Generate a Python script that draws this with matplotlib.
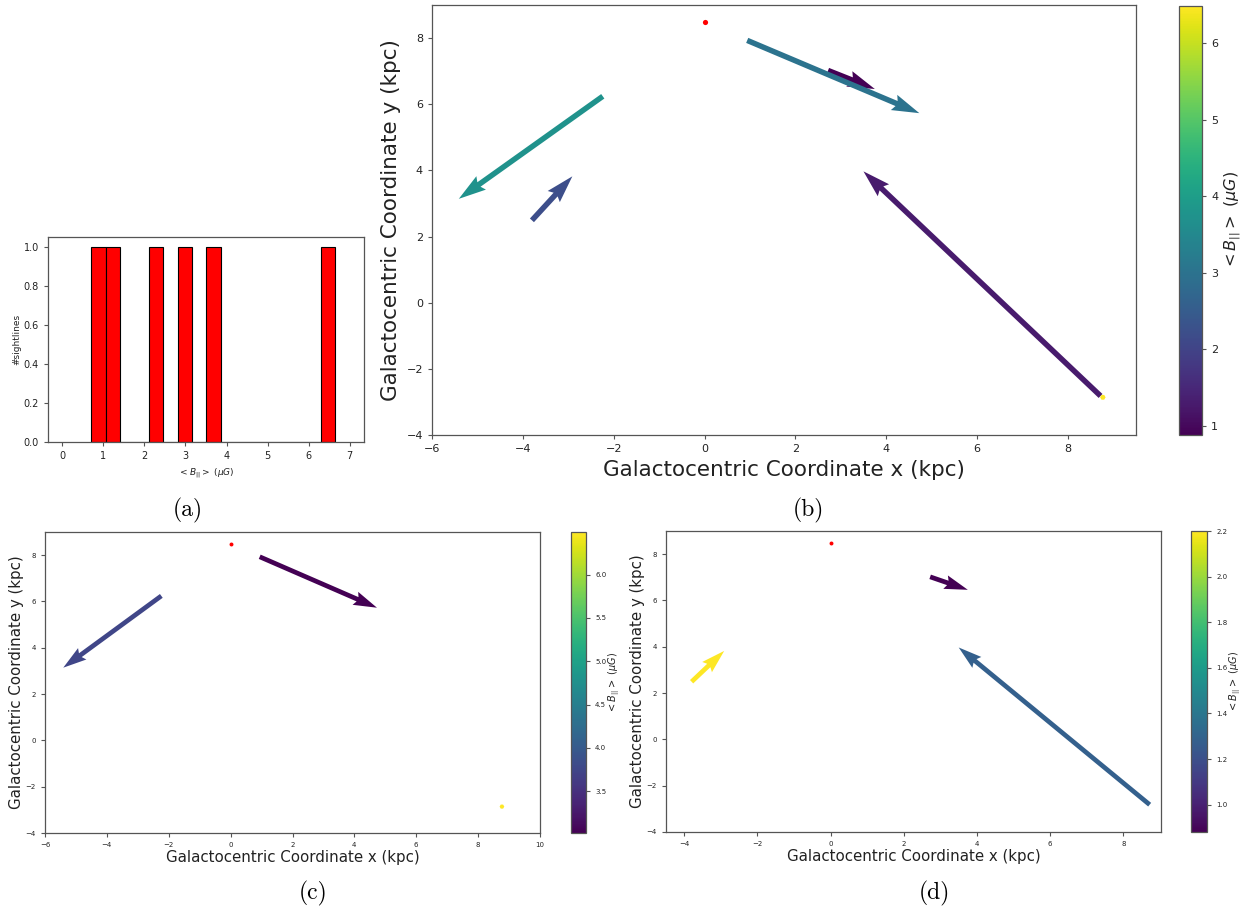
import numpy as np
import matplotlib
matplotlib.use("Agg")
import matplotlib.pyplot as plt

# Sightline tails / heads in Galactocentric coordinates (kpc) and mean B_parallel (muG)
x_start = np.array([2.72, 8.72, -3.80, 0.94, -2.24, 8.77])
y_start = np.array([7.02, -2.82, 2.49, 7.93, 6.24, -2.86])
x_end = np.array([3.75, 3.50, -2.91, 4.73, -5.41, 8.77])
y_end = np.array([6.46, 3.97, 3.82, 5.73, 3.14, -2.86])
b_par = np.array([0.88, 1.28, 2.20, 3.02, 3.75, 6.49])

# Sun position
sun_x, sun_y = 0.0, 8.5

# Histogram bin edges
hist_edges = np.linspace(0.708, 6.655, 18)

# Field-strength split between the low / high subsets
b_split = 2.5

W, H = 1250, 914
fig = plt.figure(figsize=(W / 100, H / 100), dpi=100)

SPINE = "#555555"
TXT = "#222222"
B_LABEL = r"$< B_{||} >\ (\mu G)$"


def px_axes(l, t, r, b):
    return fig.add_axes([l / W, 1 - b / H, (r - l) / W, (b - t) / H])


def style(ax, tick_fs):
    for s in ax.spines.values():
        s.set_color(SPINE)
        s.set_linewidth(0.9)
    ax.tick_params(labelsize=tick_fs, colors=SPINE, labelcolor=TXT,
                   width=0.8, length=3)


def map_panel(ax, cax, mask, width, sun_s, label_fs, tick_fs, cb_fs, cb_tick_fs,
              xlim, cticks=None, labelpad_cb=2, labelpad_ax=4):
    u = x_end[mask] - x_start[mask]
    v = y_end[mask] - y_start[mask]
    c = b_par[mask]
    q = ax.quiver(x_start[mask], y_start[mask], u, v, c, cmap="viridis",
                  angles="xy", scale_units="xy", scale=1, width=width)
    q.set_clim(c.min(), c.max())
    ax.scatter([sun_x], [sun_y], s=sun_s, color="red", zorder=3, linewidths=0)
    ax.set_xlim(*xlim)
    ax.set_ylim(-4, 9)
    ax.set_xlabel("Galactocentric Coordinate x (kpc)", fontsize=label_fs,
                  color=TXT, labelpad=labelpad_ax)
    ax.set_ylabel("Galactocentric Coordinate y (kpc)", fontsize=label_fs,
                  color=TXT, labelpad=labelpad_ax)
    style(ax, tick_fs)
    cb = fig.colorbar(q, cax=cax)
    if cticks is not None:
        cb.set_ticks(cticks)
    cb.outline.set_edgecolor(SPINE)
    cb.outline.set_linewidth(0.9)
    cax.tick_params(labelsize=cb_tick_fs, colors=SPINE, labelcolor=TXT,
                    width=0.8, length=3)
    cb.set_label(B_LABEL, fontsize=cb_fs, color=TXT, labelpad=labelpad_cb)
    return q


# (a) histogram
ax_a = px_axes(48, 237, 364, 442)
ax_a.hist(b_par, bins=hist_edges, color="red", edgecolor="black", linewidth=0.8)
ax_a.set_xlim(-0.35, 7.35)
ax_a.set_xticks(range(0, 8))
ax_a.set_ylabel("#sightlines", fontsize=6.5, color=TXT, labelpad=2)
ax_a.set_xlabel(B_LABEL, fontsize=6.5, color=TXT)
style(ax_a, 7)

# (b) all sightlines
ax_b = px_axes(432, 5, 1136, 435)
cax_b = px_axes(1179, 6, 1202, 435)
map_panel(ax_b, cax_b, np.ones_like(b_par, dtype=bool), 0.0078, 14,
          15.5, 8, 11.5, 8, (-6, 9.5), labelpad_cb=3, labelpad_ax=4)

# (c) high-field sightlines
ax_c = px_axes(45, 532, 540, 833)
cax_c = px_axes(571, 532, 586, 833)
map_panel(ax_c, cax_c, b_par > b_split, 0.0095, 8,
          10.8, 5, 7, 5, (-6, 10), labelpad_cb=0, labelpad_ax=1.5)

# (d) low-field sightlines
ax_d = px_axes(666, 531, 1161, 832)
cax_d = px_axes(1191, 531, 1207, 832)
map_panel(ax_d, cax_d, b_par <= b_split, 0.0095, 8,
          10.8, 5, 7, 5, (-4.5, 9.03),
          cticks=[1.0, 1.2, 1.4, 1.6, 1.8, 2.0, 2.2],
          labelpad_cb=0, labelpad_ax=1.5)

# sub-figure captions
for lab, (cx, cy) in {"(a)": (188, 510), "(b)": (808, 510),
                      "(c)": (313, 893), "(d)": (934, 893)}.items():
    fig.text(cx / W, 1 - cy / H, lab, family="cmr10", fontsize=17,
             ha="center", va="center")

fig.savefig("out.png", dpi=100, facecolor="white")
